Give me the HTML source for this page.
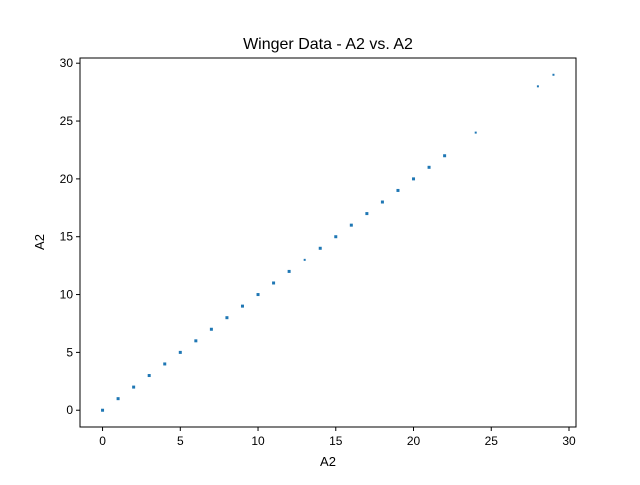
<!DOCTYPE html>
<html><head><meta charset="utf-8"><style>
body{margin:0;background:#fff;}
svg{font-family:"Liberation Sans","DejaVu Sans",sans-serif;}
</style></head><body>
<svg id="chart" width="640" height="480">
<rect width="640" height="480" fill="#fff"/>
<text x="328" y="49" font-size="16" text-anchor="middle">Winger Data - A2 vs. A2</text>
<g id="marks"></g>
<rect x="80" y="58" width="496" height="369" fill="none" stroke="#000" stroke-width="1"/>
<g id="xticks"></g><g id="yticks"></g>
<text x="328" y="466" font-size="13" text-anchor="middle">A2</text>
<text x="44" y="242" font-size="13" text-anchor="middle" transform="rotate(-90 44 242)">A2</text>
</svg>
<script>
const xValues=[0,1,2,3,4,5,6,7,8,9,10,11,12,13,14,15,16,17,18,19,20,21,22,24,28,29];
const yValues=[0,1,2,3,4,5,6,7,8,9,10,11,12,13,14,15,16,17,18,19,20,21,22,24,28,29];
const markerSizes=[3,3,3,3,3,3,3,3,3,3,3,3,3,2,3,3,3,3,3,3,3,3,3,2,2,2];
const xTicks=[0,5,10,15,20,25,30];
const yTicks=[0,5,10,15,20,25,30];
const NS="http://www.w3.org/2000/svg";
const xMin=-1.45,xMax=30.45,yMin=-1.45,yMax=30.45;
const L=80,R=576,T=58,B=427;
const sx=v=>L+(v-xMin)/(xMax-xMin)*(R-L);
const sy=v=>B-(v-yMin)/(yMax-yMin)*(B-T);
const marks=document.getElementById('marks');
xValues.forEach((xv,i)=>{
  const s=markerSizes[i];
  const r=document.createElementNS(NS,'rect');
  r.setAttribute('x',sx(xv)-s/2);r.setAttribute('y',sy(yValues[i])-s/2);
  r.setAttribute('width',s);r.setAttribute('height',s);r.setAttribute('fill','#1f77b4');
  
  
  marks.appendChild(r);
});
const xg=document.getElementById('xticks');
xTicks.forEach(t=>{
  const x=sx(t);
  const l=document.createElementNS(NS,'line');
  l.setAttribute('x1',x);l.setAttribute('x2',x);l.setAttribute('y1',B);l.setAttribute('y2',B+4);l.setAttribute('stroke','#000');
  
  
  xg.appendChild(l);
  const tx=document.createElementNS(NS,'text');
  tx.setAttribute('x',x);tx.setAttribute('y',B+18);tx.setAttribute('font-size','12');tx.setAttribute('text-anchor','middle');
  tx.textContent=t;
  
  
  xg.appendChild(tx);
});
const yg=document.getElementById('yticks');
yTicks.forEach(t=>{
  const y=sy(t);
  const l=document.createElementNS(NS,'line');
  l.setAttribute('x1',L-4);l.setAttribute('x2',L);l.setAttribute('y1',y);l.setAttribute('y2',y);l.setAttribute('stroke','#000');
  
  
  yg.appendChild(l);
  const tx=document.createElementNS(NS,'text');
  tx.setAttribute('x',L-7);tx.setAttribute('y',y+4);tx.setAttribute('font-size','12');tx.setAttribute('text-anchor','end');
  tx.textContent=t;
  
  
  yg.appendChild(tx);
});
</script>
</body></html>
